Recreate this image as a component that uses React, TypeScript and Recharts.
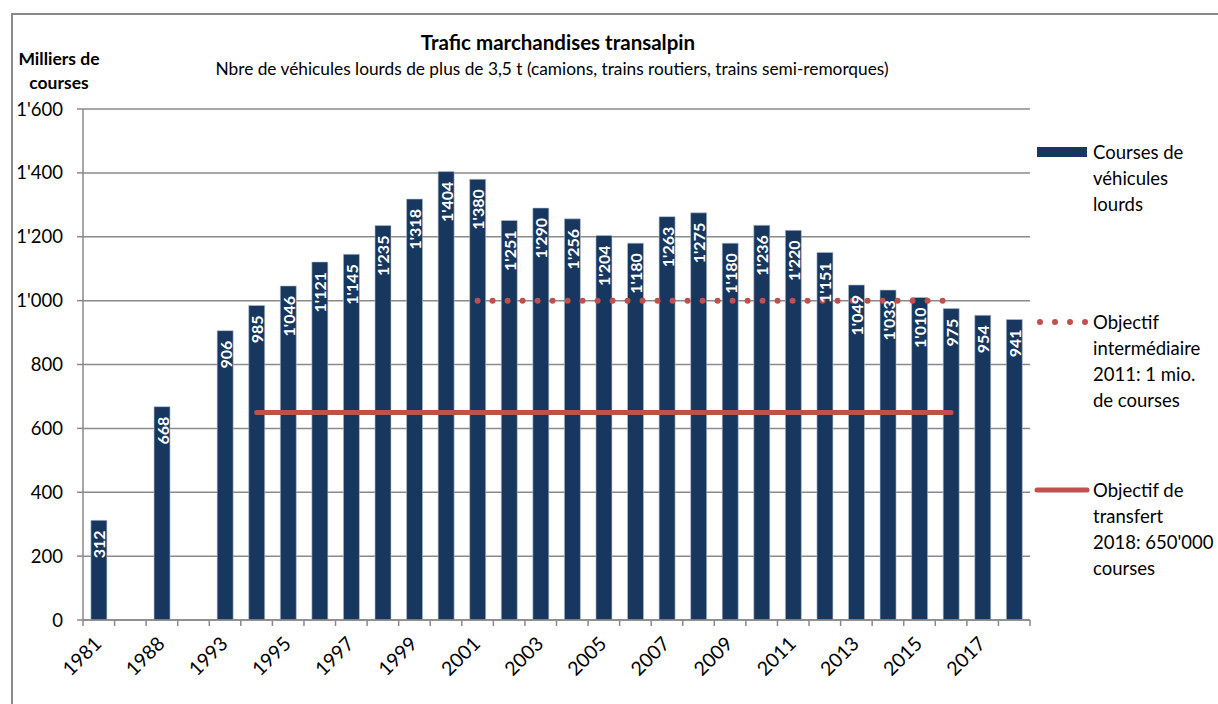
import { Bar, CartesianGrid, ComposedChart, LabelList, Line, XAxis, YAxis } from 'recharts'

// categories: two empty slots mark the gaps 1982-87 and 1989-92
const YEARS = [
  '1981', '', '1988', '', '1993', '1994', '1995', '1996', '1997', '1998',
  '1999', '2000', '2001', '2002', '2003', '2004', '2005', '2006', '2007', '2008',
  '2009', '2010', '2011', '2012', '2013', '2014', '2015', '2016', '2017', '2018',
]

// thousands of heavy vehicle trips
const COURSES = [
  312, null, 668, null, 906, 985, 1046, 1121, 1145, 1235,
  1318, 1404, 1380, 1251, 1290, 1256, 1204, 1180, 1263, 1275,
  1180, 1236, 1220, 1151, 1049, 1033, 1010, 975, 954, 941,
]

// interim target 2011: 1 mio. trips (drawn 2001-2016)
const INTERIM_TARGET = [
  null, null, null, null, null, null, null, null, null, null,
  null, null, 1000, 1000, 1000, 1000, 1000, 1000, 1000, 1000,
  1000, 1000, 1000, 1000, 1000, 1000, 1000, 1000, null, null,
]

// transfer target 2018: 650'000 trips (drawn 1994-2016)
const TRANSFER_TARGET = [
  null, null, null, null, null, 650, 650, 650, 650, 650,
  650, 650, 650, 650, 650, 650, 650, 650, 650, 650,
  650, 650, 650, 650, 650, 650, 650, 650, null, null,
]

const Y_TICKS = [0, 200, 400, 600, 800, 1000, 1200, 1400, 1600]

const NAVY = '#17375E'
const RED = '#C0504D'
const GRID = '#8a8a8a'
const FONT = 'Lato, "Liberation Sans", sans-serif'

const rows = YEARS.map((year, i) => ({
  year,
  courses: COURSES[i],
  interim: INTERIM_TARGET[i],
  transfer: TRANSFER_TARGET[i],
}))

const fmt = (v: number) => String(v).replace(/\B(?=(\d{3})+(?!\d))/g, "'")

function YearTick(props: any) {
  const { x, y, payload, index, visibleTicksCount } = props
  const half = payload?.offset ?? 0
  const top = y - 6
  const lx = x + 4
  const ly = y + 19
  return (
    <g>
      <line x1={x - half} x2={x - half} y1={top} y2={top + 6} stroke={GRID} strokeWidth={1.5} />
      {index === visibleTicksCount - 1 && (
        <line x1={x + half} x2={x + half} y1={top} y2={top + 6} stroke={GRID} strokeWidth={1.5} />
      )}
      {index % 2 === 0 && (
        <text
          x={lx}
          y={ly}
          transform={`rotate(-45 ${lx} ${ly})`}
          textAnchor="end"
          fontSize={19.5}
          fontFamily={FONT}
          fill="#000"
        >
          {payload.value}
        </text>
      )}
    </g>
  )
}

function ValueLabel(props: any) {
  const { x, y, width, value } = props
  if (value == null) return null
  const cx = x + width / 2
  const ty = y + 10
  return (
    <text
      x={cx}
      y={ty}
      transform={`rotate(-90 ${cx} ${ty})`}
      textAnchor="end"
      dominantBaseline="central"
      fill="#fff"
      fontWeight={700}
      fontSize={16}
      fontFamily={FONT}
    >
      {fmt(value)}
    </text>
  )
}

function LegendIcon({ kind }: { kind: string }) {
  if (kind === 'bar') {
    return (
      <svg width={60} height={26}>
        <rect x={4} y={8} width={50} height={10} fill={NAVY} />
      </svg>
    )
  }
  if (kind === 'dots') {
    return (
      <svg width={60} height={26}>
        <line x1={7} x2={54} y1={13} y2={13} stroke={RED} strokeWidth={6} strokeDasharray="0 15" strokeLinecap="round" />
      </svg>
    )
  }
  return (
    <svg width={60} height={26}>
      <line x1={4} x2={54} y1={13} y2={13} stroke={RED} strokeWidth={5} strokeLinecap="round" />
    </svg>
  )
}

const LEGEND_ITEMS = [
  { kind: 'bar', lines: ['Courses de', 'véhicules', 'lourds'] },
  { kind: 'dots', lines: ['Objectif', 'intermédiaire', '2011: 1 mio.', 'de courses'] },
  { kind: 'line', lines: ['Objectif de', 'transfert', "2018: 650'000", 'courses'] },
]
const LEGEND_TOPS = [139, 309, 477]

export default function App() {
  return (
    <div
      style={{
        position: 'fixed',
        left: 0,
        top: 0,
        width: 1218,
        height: 704,
        overflow: 'hidden',
        background: '#fff',
        fontFamily: FONT,
      }}
    >
      <div
        style={{
          position: 'absolute',
          left: 11,
          top: 13,
          width: 1300,
          height: 800,
          borderLeft: '2px solid #8a8a8a',
          borderTop: '2px solid #8a8a8a',
        }}
      />
      <div
        style={{
          position: 'absolute',
          left: 0,
          width: 1116,
          top: 30,
          textAlign: 'center',
          fontWeight: 700,
          fontSize: 20.5,
          lineHeight: '24px',
        }}
      >
        Trafic marchandises transalpin
      </div>
      <div
        style={{
          position: 'absolute',
          left: 0,
          width: 1104,
          top: 58,
          textAlign: 'center',
          fontSize: 17.3,
          lineHeight: '22px',
        }}
      >
        Nbre de véhicules lourds de plus de 3,5 t (camions, trains routiers, trains semi-remorques)
      </div>
      <div
        style={{
          position: 'absolute',
          left: 9,
          width: 100,
          top: 47,
          textAlign: 'center',
          fontWeight: 700,
          fontSize: 17.5,
          lineHeight: '24px',
        }}
      >
        Milliers de
        <br />
        courses
      </div>

      <div style={{ position: 'absolute', left: 0, top: 0 }}>
        <ComposedChart
          width={1218}
          height={704}
          data={rows}
          margin={{ top: 109, right: 188, bottom: 24, left: 13 }}
          barCategoryGap="25%"
        >
          <CartesianGrid vertical={false} stroke={GRID} strokeWidth={1.5} />
          <XAxis
            dataKey="year"
            interval={0}
            height={60}
            tickLine={false}
            tickSize={6}
            tickMargin={0}
            axisLine={{ stroke: GRID, strokeWidth: 1.5 }}
            tick={<YearTick />}
          />
          <YAxis
            type="number"
            domain={[0, 1600]}
            ticks={Y_TICKS}
            width={70}
            tickFormatter={fmt}
            tickSize={6}
            tickMargin={14}
            axisLine={{ stroke: GRID, strokeWidth: 1.5 }}
            tickLine={{ stroke: GRID, strokeWidth: 1.5 }}
            tick={{ fontSize: 18.5, fill: '#000', fontFamily: FONT }}
          />
          <Bar dataKey="courses" fill={NAVY} stroke="#b9c3d1" strokeWidth={0.6} isAnimationActive={false}>
            <LabelList dataKey="courses" content={<ValueLabel />} />
          </Bar>
          <Line
            type="linear"
            dataKey="transfer"
            stroke={RED}
            strokeWidth={5}
            strokeLinecap="round"
            dot={false}
            activeDot={false}
            isAnimationActive={false}
          />
          <Line
            type="linear"
            dataKey="interim"
            stroke={RED}
            strokeWidth={6}
            strokeDasharray="0 15"
            strokeLinecap="round"
            dot={false}
            activeDot={false}
            isAnimationActive={false}
          />
        </ComposedChart>
      </div>

      {LEGEND_ITEMS.map((item, i) => (
        <div
          key={item.kind}
          style={{ position: 'absolute', left: 1033, top: LEGEND_TOPS[i], display: 'flex', alignItems: 'flex-start' }}
        >
          <LegendIcon kind={item.kind} />
          <div style={{ fontSize: 18.5, lineHeight: '26px', color: '#000', whiteSpace: 'nowrap' }}>
            {item.lines.map((l) => (
              <div key={l}>{l}</div>
            ))}
          </div>
        </div>
      ))}
    </div>
  )
}
